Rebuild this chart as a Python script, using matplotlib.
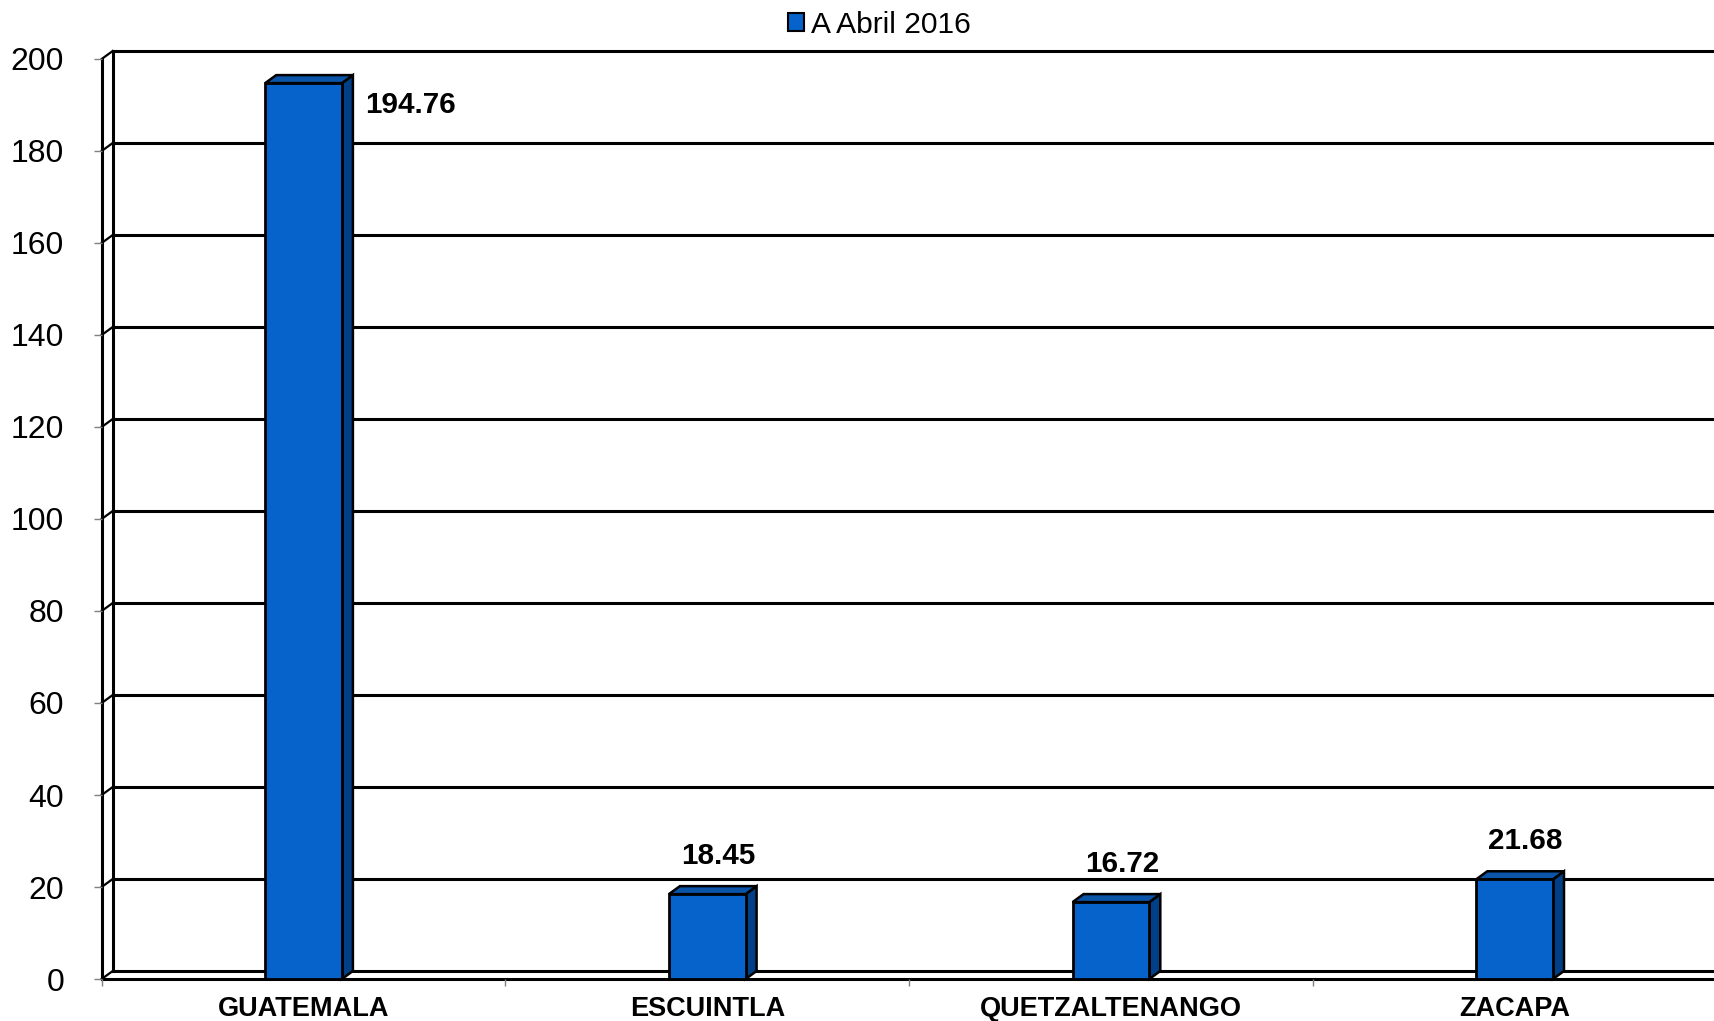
import numpy as np
import matplotlib
matplotlib.use("Agg")
import matplotlib.pyplot as plt
from matplotlib.patches import Polygon, Rectangle, Patch

# data
categories = ["GUATEMALA", "ESCUINTLA", "QUETZALTENANGO", "ZACAPA"]
values = [194.76, 18.45, 16.72, 21.68]
series_name = "A Abril 2016"
y_ticks = list(range(0, 201, 20))

plt.rcParams["font.family"] = ["Liberation Sans", "DejaVu Sans"]

W, H, DPI = 1714, 1021, 100
fig = plt.figure(figsize=(W / DPI, H / DPI), dpi=DPI)

# front plane of the axes in pixels
x0, y0 = 101.7, 979.0
cat_w = 403.7
plot_h = 920.0
ax = fig.add_axes([x0 / W, (H - y0) / H, 4 * cat_w / W, plot_h / H])
n = len(categories)
ax.set_xlim(0, n)
ax.set_ylim(0, 200)

# depth of the fake 3d effect, in data units
DX = 11.0 / cat_w
DY = 8.0 * 200 / plot_h

front = "#0563CB"
side = "#013F86"
top = "#0A55A8"
bw = 0.19

for s in ax.spines.values():
    s.set_visible(False)

# back wall gridlines and left wall
for v in y_ticks:
    ax.plot([DX, n + DX], [v + DY, v + DY], color="black", lw=2.2, zorder=1, clip_on=False)
    ax.plot([0, DX], [v, v + DY], color="black", lw=1.6, zorder=1, clip_on=False)
ax.plot([DX, DX], [DY, 200 + DY], color="black", lw=2.2, zorder=1, clip_on=False)
ax.plot([0, 0], [0, 200], color="black", lw=2.2, zorder=1, clip_on=False)
ax.plot([0, n], [0, 0], color="black", lw=2.2, zorder=1, clip_on=False)

# bars
for i, v in enumerate(values):
    xc = i + 0.5
    xl, xr = xc - bw / 2, xc + bw / 2
    ax.add_patch(Polygon([(xr, 0), (xr + DX, DY), (xr + DX, v + DY), (xr, v)],
                         closed=True, facecolor=side, edgecolor="black", lw=1.8,
                         zorder=3, clip_on=False))
    ax.add_patch(Polygon([(xl, v), (xl + DX, v + DY), (xr + DX, v + DY), (xr, v)],
                         closed=True, facecolor=top, edgecolor="black", lw=1.8,
                         zorder=3, clip_on=False))
    ax.add_patch(Rectangle((xl, 0), bw, v, facecolor=front, edgecolor="black",
                           lw=2.0, zorder=4, clip_on=False))
    if v > 150:
        ax.annotate(f"{v:.2f}", (xr, v), xytext=(23, -22), textcoords="offset pixels",
                    ha="left", va="center", fontsize=21.3, fontweight="bold", zorder=5)
    else:
        ax.annotate(f"{v:.2f}", (xc + DX, v + DY), xytext=(0, 30),
                    textcoords="offset pixels", ha="center", va="center",
                    fontsize=21.3, fontweight="bold", zorder=5)

# ticks
ax.set_yticks(y_ticks)
ax.set_yticklabels([str(t) for t in y_ticks], fontsize=23)
ax.tick_params(axis="y", length=6, width=1, color="#808080", pad=21)
ax.set_xticks(np.arange(n + 1))
ax.set_xticklabels([])
ax.tick_params(axis="x", which="major", length=5, width=1, color="#808080")
ax.set_xticks(np.arange(n) + 0.5, minor=True)
ax.set_xticklabels(categories, minor=True, fontsize=19.5, fontweight="bold")
ax.tick_params(axis="x", which="minor", length=0, pad=12)

# legend
fig.legend(handles=[Patch(facecolor=front, edgecolor="black", lw=1.5, label=series_name)],
           loc="center", bbox_to_anchor=(0.513, 1 - 25 / H), frameon=False,
           fontsize=21.6, handlelength=0.55, handleheight=0.55, handletextpad=0.22,
           borderpad=0, borderaxespad=0)

fig.savefig("out.png", dpi=DPI)
